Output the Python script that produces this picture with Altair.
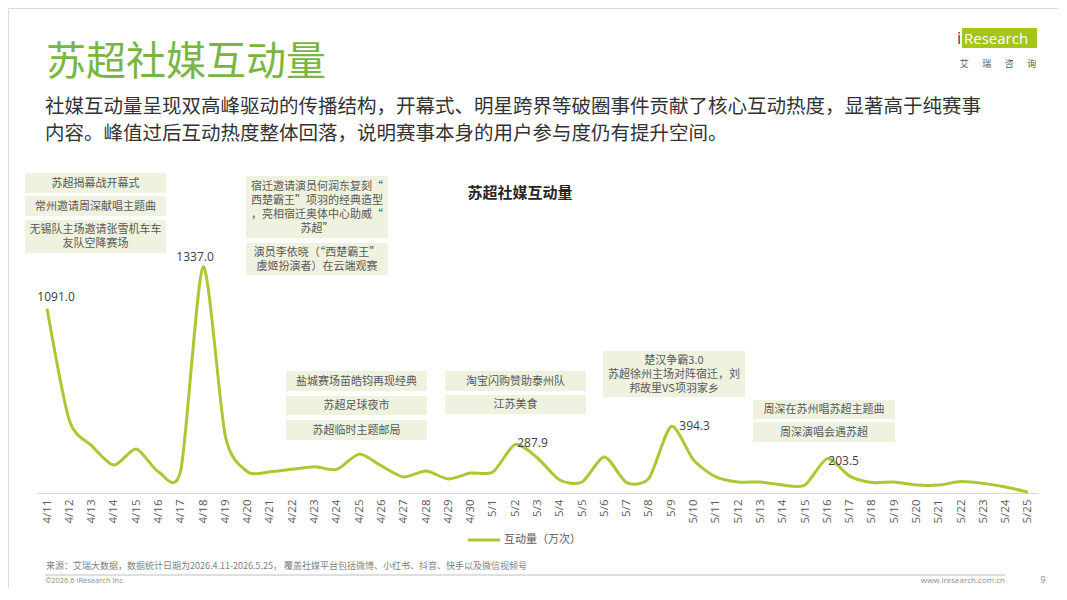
import altair as alt
import pandas as pd

# ---------------- data ----------------
dates = ["4/11", "4/12", "4/13", "4/14", "4/15", "4/16", "4/17", "4/18", "4/19", "4/20",
         "4/21", "4/22", "4/23", "4/24", "4/25", "4/26", "4/27", "4/28", "4/29", "4/30",
         "5/1", "5/2", "5/3", "5/4", "5/5", "5/6", "5/7", "5/8", "5/9", "5/10",
         "5/11", "5/12", "5/13", "5/14", "5/15", "5/16", "5/17", "5/18", "5/19", "5/20",
         "5/21", "5/22", "5/23", "5/24", "5/25"]
values = [1091.0, 430, 280, 165, 260, 125, 135, 1337.0, 335, 125,
          125, 140, 155, 140, 230, 160, 95, 130, 83, 118,
          124, 287.9, 207, 77, 65, 213, 62, 88, 394.3, 195,
          95, 65, 65, 47, 47, 203.5, 100, 62, 65, 47,
          47, 68, 57, 35, 5]
series_name = "互动量（万次）"
labelled_dates = ["4/11", "4/18", "5/2", "5/9", "5/16"]

page_title = "苏超社媒互动量"
subtitle_lines = [
    "社媒互动量呈现双高峰驱动的传播结构，开幕式、明星跨界等破圈事件贡献了核心互动热度，显著高于纯赛事",
    "内容。峰值过后互动热度整体回落，说明赛事本身的用户参与度仍有提升空间。",
]
chart_title = "苏超社媒互动量"
annotation_texts = [
    "苏超揭幕战开幕式",
    "常州邀请周深献唱主题曲",
    "无锡队主场邀请张雪机车车\n友队空降赛场",
    "宿迁邀请演员何润东复刻“\n西楚霸王”项羽的经典造型\n，亮相宿迁奥体中心助威“\n苏超”",
    "演员李依晓（“西楚霸王”\n虞姬扮演者）在云端观赛",
    "盐城赛场苗皓钧再现经典",
    "苏超足球夜市",
    "苏超临时主题邮局",
    "淘宝闪购赞助泰州队",
    "江苏美食",
    "楚汉争霸3.0\n苏超徐州主场对阵宿迁，刘\n邦故里VS项羽家乡",
    "周深在苏州唱苏超主题曲",
    "周深演唱会遇苏超",
]
source_text = "来源：艾瑞大数据，数据统计日期为2026.4.11-2026.5.25， 覆盖社媒平台包括微博、小红书、抖音、快手以及微信视频号"
copyright_text = "©2026.6 iResearch Inc."
site_text = "www.iresearch.com.cn"
page_no = "9"
logo_cn = "艾\u2003\u2002瑞\u2003\u2002咨\u2003\u2002询"

# ---------------- layout (page pixels) ----------------
OFF = 8
def p(v):
    return v - OFF

annotation_boxes = [
    (25, 173, 166, 193), (25, 196, 166, 216), (25, 220, 166, 253),
    (246, 176, 388, 238), (246, 243, 388, 275),
    (286, 371, 427, 391), (286, 396, 427, 415), (286, 420, 427, 440),
    (445, 371, 586, 391), (445, 395, 586, 414),
    (603, 351, 745, 397),
    (753, 400, 895, 419), (753, 422, 895, 442),
]
LINE_H = 14

GREEN = "#a9c934"
FONT = "Noto Sans CJK SC"
NUMFONT = "Open Sans"

df = pd.DataFrame({"date": dates, "value": values, "series": [series_name] * len(dates)})

x_enc = alt.X("date:N", sort=dates,
              scale=alt.Scale(type="point", domain=dates, range=[p(37), p(1038)], padding=0.45),
              axis=alt.Axis(title=None, labelAngle=270, labelFontSize=11.5, labelColor="#595959",
                            labelFont=NUMFONT, ticks=False, grid=False, domainColor="#d9d9d9",
                            domainWidth=1, labelPadding=6, offset=p(493) - 580))
y_enc = alt.Y("value:Q", scale=alt.Scale(domain=[0, 1337], range=[p(493), p(267)], nice=False, zero=False),
              axis=None)

line = alt.Chart(df).mark_line(interpolate="cardinal", tension=0.25, strokeWidth=3).encode(
    x=x_enc, y=y_enc,
    color=alt.Color("series:N", scale=alt.Scale(domain=[series_name], range=[GREEN]),
                    legend=alt.Legend(title=None, orient="none", legendX=p(466), legendY=p(522),
                                      symbolType="stroke", symbolSize=1050, symbolStrokeWidth=3,
                                      labelFontSize=11, labelColor="#595959", labelFont=FONT,
                                      labelOffset=2, padding=0)),
)

label_specs = {  # date: (align, dx, dy)
    "4/11": ("center", 9, -12),
    "4/18": ("center", -8, -10),
    "5/2": ("left", 2, -1),
    "5/9": ("left", 8, 0),
    "5/16": ("left", 1, 2),
}
label_layers = []
for d in labelled_dates:
    a, dx, dy = label_specs[d]
    label_layers.append(
        alt.Chart(df).transform_filter(alt.datum.date == d).mark_text(
            align=a, baseline="middle", dx=dx, dy=dy, fontSize=12, color="#404040", font=NUMFONT
        ).encode(x=x_enc, y=y_enc, text=alt.Text("value:Q", format=".1f"))
    )

one = pd.DataFrame({"k": [0]})

def txt(s, x, y, **kw):
    return alt.Chart(one).mark_text(text=s, lineBreak="\n", **kw).encode(x=alt.value(p(x)), y=alt.value(p(y)))

def rect(x1, y1, x2, y2, color, **kw):
    return alt.Chart(one).mark_rect(color=color, **kw).encode(
        x=alt.value(p(x1)), x2=alt.value(p(x2)), y=alt.value(p(y1)), y2=alt.value(p(y2)))

deco = []
# titles
deco.append(txt(page_title, 46, 63, align="left", baseline="middle", fontSize=40, color="#79b63f", font=FONT))
deco.append(txt(subtitle_lines[0], 45, 107, align="left", baseline="middle", fontSize=19.5, color="#333333", font=FONT))
deco.append(txt(subtitle_lines[1], 45, 134, align="left", baseline="middle", fontSize=19.5, color="#333333", font=FONT))
deco.append(txt(chart_title, 520, 193, align="center", baseline="middle", fontSize=15, fontWeight="bold",
                color="#262626", font=FONT))

# logo
deco.append(rect(962, 28, 1037, 48, "#a5c41c"))
deco.append(txt("i", 959, 39, align="center", baseline="middle", fontSize=16, color="#1f3864", font=NUMFONT))
deco.append(txt("Research", 964, 39, align="left", baseline="middle", fontSize=15, color="#ffffff", font=NUMFONT))
deco.append(txt(logo_cn, 998, 64, align="center", baseline="middle", fontSize=9, color="#595959", font=FONT))

# annotation boxes
for s, (x1, y1, x2, y2) in zip(annotation_texts, annotation_boxes):
    n = s.count("\n") + 1
    deco.append(rect(x1, y1, x2, y2, "#eef2df"))
    deco.append(txt(s, (x1 + x2) / 2, (y1 + y2) / 2 + 0.5 - (n - 1) * LINE_H / 2, align="center",
                    baseline="middle", fontSize=11, lineHeight=LINE_H, color="#595959", font=FONT))

# footer
deco.append(txt(source_text, 46, 566, align="left", baseline="middle", fontSize=9, color="#7f7f7f", font=FONT))
deco.append(rect(45, 574.5, 1005, 575.5, "#bfbfbf"))
deco.append(txt(copyright_text, 45, 581, align="left", baseline="middle", fontSize=7.5, color="#8c8c8c", font=NUMFONT))
deco.append(txt(site_text, 1005, 581, align="right", baseline="middle", fontSize=8, color="#8c8c8c", font=NUMFONT))
deco.append(txt(page_no, 1043, 580, align="center", baseline="middle", fontSize=9, color="#8c8c8c", font=NUMFONT))

chart = alt.layer(*deco, line, *label_layers).properties(
    width=1051, height=580, autosize=alt.AutoSizeParams(type="none"), padding=0,
    background="#ffffff",
).configure_view(stroke=None).configure(font=FONT)

chart.save("out.html", embed_options={"renderer": "svg", "actions": False})
